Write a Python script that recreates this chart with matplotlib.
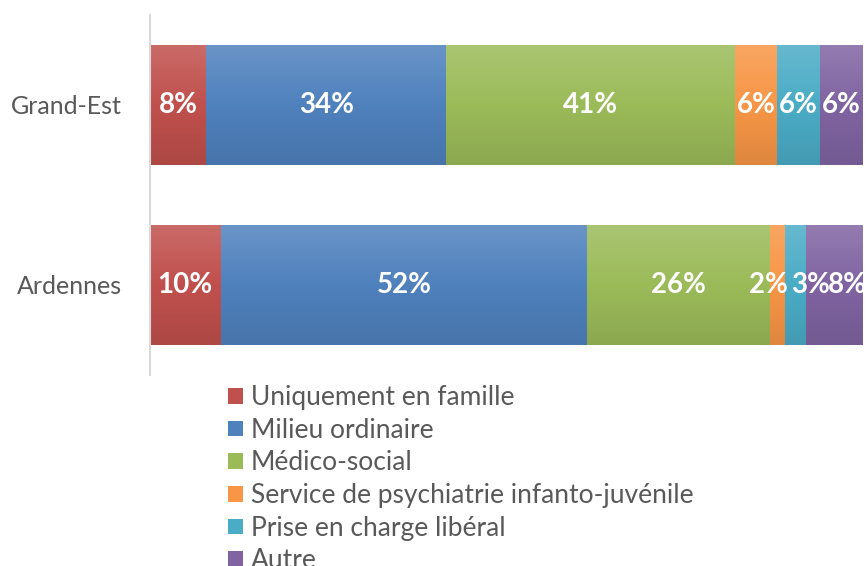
import numpy as np
import matplotlib.pyplot as plt
from matplotlib.colors import to_rgb, LinearSegmentedColormap
from matplotlib.patches import Patch

plt.rcParams['font.family'] = ['Lato', 'DejaVu Sans']

regions = ["Ardennes", "Grand-Est"]
categories = ["Uniquement en famille", "Milieu ordinaire", "Médico-social",
              "Service de psychiatrie infanto-juvénile", "Prise en charge libéral", "Autre"]
ardennes = [10, 52, 26, 2, 3, 8]
grand_est = [8, 34, 41, 6, 6, 6]
values = np.array([ardennes, grand_est])
colors = ["#C0504D", "#4F81BD", "#9BBB59", "#F79646", "#4BACC6", "#8064A2"]
# labels nudged sideways in the original so the small ones don't collide
label_shift = np.array([[0, 0, 0, -1.3, 2.2, 1.9],
                        [0, 0, 0, 0, 0, 0]])


def shade(c, f):
    r = np.array(to_rgb(c))
    if f > 0:
        return tuple(r + (1 - r) * f)
    return tuple(r * (1 + f))


fig = plt.figure(figsize=(8.67, 5.66), dpi=100)
ax = fig.add_axes([150 / 867, 1 - 375 / 566, 1 - 150 / 867, 360 / 566])

grad = np.linspace(0, 1, 64).reshape(-1, 1)
left = np.zeros(len(regions))
for j, cat in enumerate(categories):
    bars = ax.barh(range(len(regions)), values[:, j], left=left, height=0.665,
                   color=colors[j], linewidth=0)
    cmap = LinearSegmentedColormap.from_list(
        "g", [shade(colors[j], 0.15), colors[j], shade(colors[j], -0.1)])
    for b in bars:
        x0, y0 = b.get_x(), b.get_y()
        im = ax.imshow(grad, cmap=cmap, aspect='auto', origin='upper',
                       extent=[x0, x0 + b.get_width(), y0, y0 + b.get_height()],
                       zorder=2)
        im.set_clip_path(b)
    for i, b in enumerate(bars):
        ax.text(b.get_x() + b.get_width() / 2 + label_shift[i, j],
                b.get_y() + b.get_height() / 2,
                f"{values[i, j]}%", ha='center', va='center', color='white',
                fontsize=20, fontweight='bold', zorder=3, clip_on=False)
    left += values[:, j]

ax.set_xlim(0, 101.7)
ax.set_ylim(-0.5, 1.5)
ax.set_yticks(range(len(regions)))
ax.set_yticklabels(regions, fontsize=18, color='#595959')
ax.tick_params(axis='y', length=0, pad=20)
ax.set_xticks([])
for s in ['top', 'right', 'bottom']:
    ax.spines[s].set_visible(False)
ax.spines['left'].set_color('#d9d9d9')
ax.spines['left'].set_linewidth(1.5)

handles = [Patch(facecolor=c, edgecolor='none') for c in colors]
fig.legend(handles, categories, loc='upper left', bbox_to_anchor=(215 / 867, 1 - 372 / 566),
           frameon=False, fontsize=19, labelcolor='#595959', handlelength=0.55,
           handleheight=0.55, handletextpad=0.3, labelspacing=0.29, borderpad=0)

fig.savefig('out.png', dpi=100)
